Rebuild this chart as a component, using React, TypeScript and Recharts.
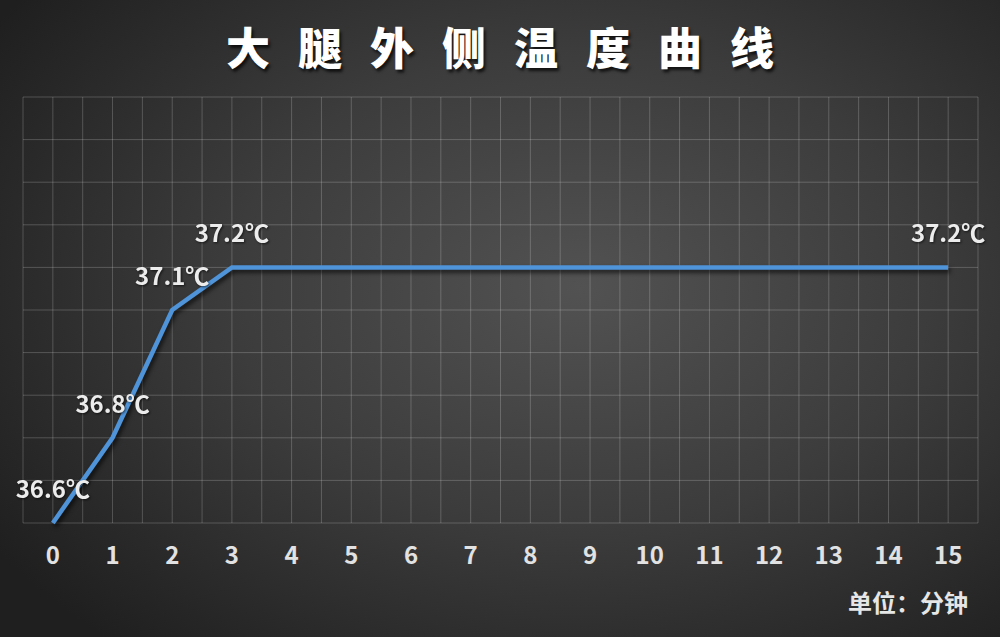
import { LineChart, Line, XAxis, YAxis, CartesianGrid, LabelList } from 'recharts';

const minutes = [0, 1, 2, 3, 4, 5, 6, 7, 8, 9, 10, 11, 12, 13, 14, 15];
const temps = [36.6, 36.8, 37.1, 37.2, 37.2, 37.2, 37.2, 37.2, 37.2, 37.2, 37.2, 37.2, 37.2, 37.2, 37.2, 37.2];
const labeledMinutes = [0, 1, 2, 3, 15];
const xGridTicks = [-0.5, 0, 0.5, 1, 1.5, 2, 2.5, 3, 3.5, 4, 4.5, 5, 5.5, 6, 6.5, 7, 7.5, 8, 8.5, 9, 9.5, 10, 10.5, 11, 11.5, 12, 12.5, 13, 13.5, 14, 14.5, 15, 15.5];
const yGridTicks = [36.6, 36.7, 36.8, 36.9, 37.0, 37.1, 37.2, 37.3, 37.4, 37.5, 37.6];

const title = '大腿外侧温度曲线';
const unitText = '单位：分钟';

const FONT = '"Noto Sans CJK SC", "Noto Sans", sans-serif';

const data = minutes.map((m, i) => ({
  m,
  t: temps[i],
  lbl: labeledMinutes.includes(m) ? `${temps[i].toFixed(1)}℃` : '',
}));

function XTick({ x, y, payload }: any) {
  if (!Number.isInteger(payload.value)) return null;
  return (
    <text x={x} y={y + 33} textAnchor="middle" fill="#e2e2e2" fontSize={24} fontWeight={700} fontFamily={FONT}>
      {payload.value}
    </text>
  );
}

function PointLabel({ x, y, value }: any) {
  if (!value) return null;
  return (
    <text
      x={x}
      y={y - 25}
      textAnchor="middle"
      fill="#ececec"
      fontSize={24}
      fontWeight={700}
      fontFamily={FONT}
      style={{ filter: 'drop-shadow(1px 1px 1px rgba(0,0,0,0.6))' }}
    >
      {value}
    </text>
  );
}

export default function App() {
  return (
    <div
      style={{
        position: 'absolute',
        left: 0,
        top: 0,
        width: 1000,
        height: 637,
        overflow: 'hidden',
        background: 'radial-gradient(ellipse 70% 75% at 58% 45%, #525252 0%, #3c3c3c 50%, #1f1f1f 100%)',
        fontFamily: FONT,
      }}
    >
      <style>{'.temp-line path { filter: drop-shadow(2px 3px 2px rgba(0,0,0,0.65)); }'}</style>
      <div
        style={{
          position: 'absolute',
          left: 0,
          top: 18,
          width: 1000,
          textAlign: 'center',
          color: '#ffffff',
          fontSize: 44,
          fontWeight: 900,
          lineHeight: '56px',
          letterSpacing: 28,
          paddingLeft: 28,
          boxSizing: 'border-box',
          textShadow: '2px 3px 3px rgba(0,0,0,0.7)',
        }}
      >
        {title}
      </div>
      <LineChart width={1000} height={637} data={data} margin={{ top: 97, right: 22, bottom: 74, left: 23 }}>
        <CartesianGrid stroke="rgba(255,255,255,0.2)" strokeWidth={1} />
        <XAxis
          dataKey="m"
          type="number"
          domain={[-0.5, 15.5]}
          ticks={xGridTicks}
          interval={0}
          axisLine={false}
          tickLine={false}
          tick={<XTick />}
          height={40}
        />
        <YAxis type="number" domain={[36.6, 37.6]} ticks={yGridTicks} hide />
        <Line
          className="temp-line"
          type="linear"
          dataKey="t"
          stroke="#4f93d8"
          strokeWidth={4.5}
          dot={false}
          activeDot={false}
          isAnimationActive={false}
        >
          <LabelList dataKey="lbl" content={<PointLabel />} />
        </Line>
      </LineChart>
      <div
        style={{
          position: 'absolute',
          right: 32,
          top: 587,
          color: '#e6e6e6',
          fontSize: 24,
          fontWeight: 700,
          lineHeight: '30px',
        }}
      >
        {unitText}
      </div>
    </div>
  );
}
